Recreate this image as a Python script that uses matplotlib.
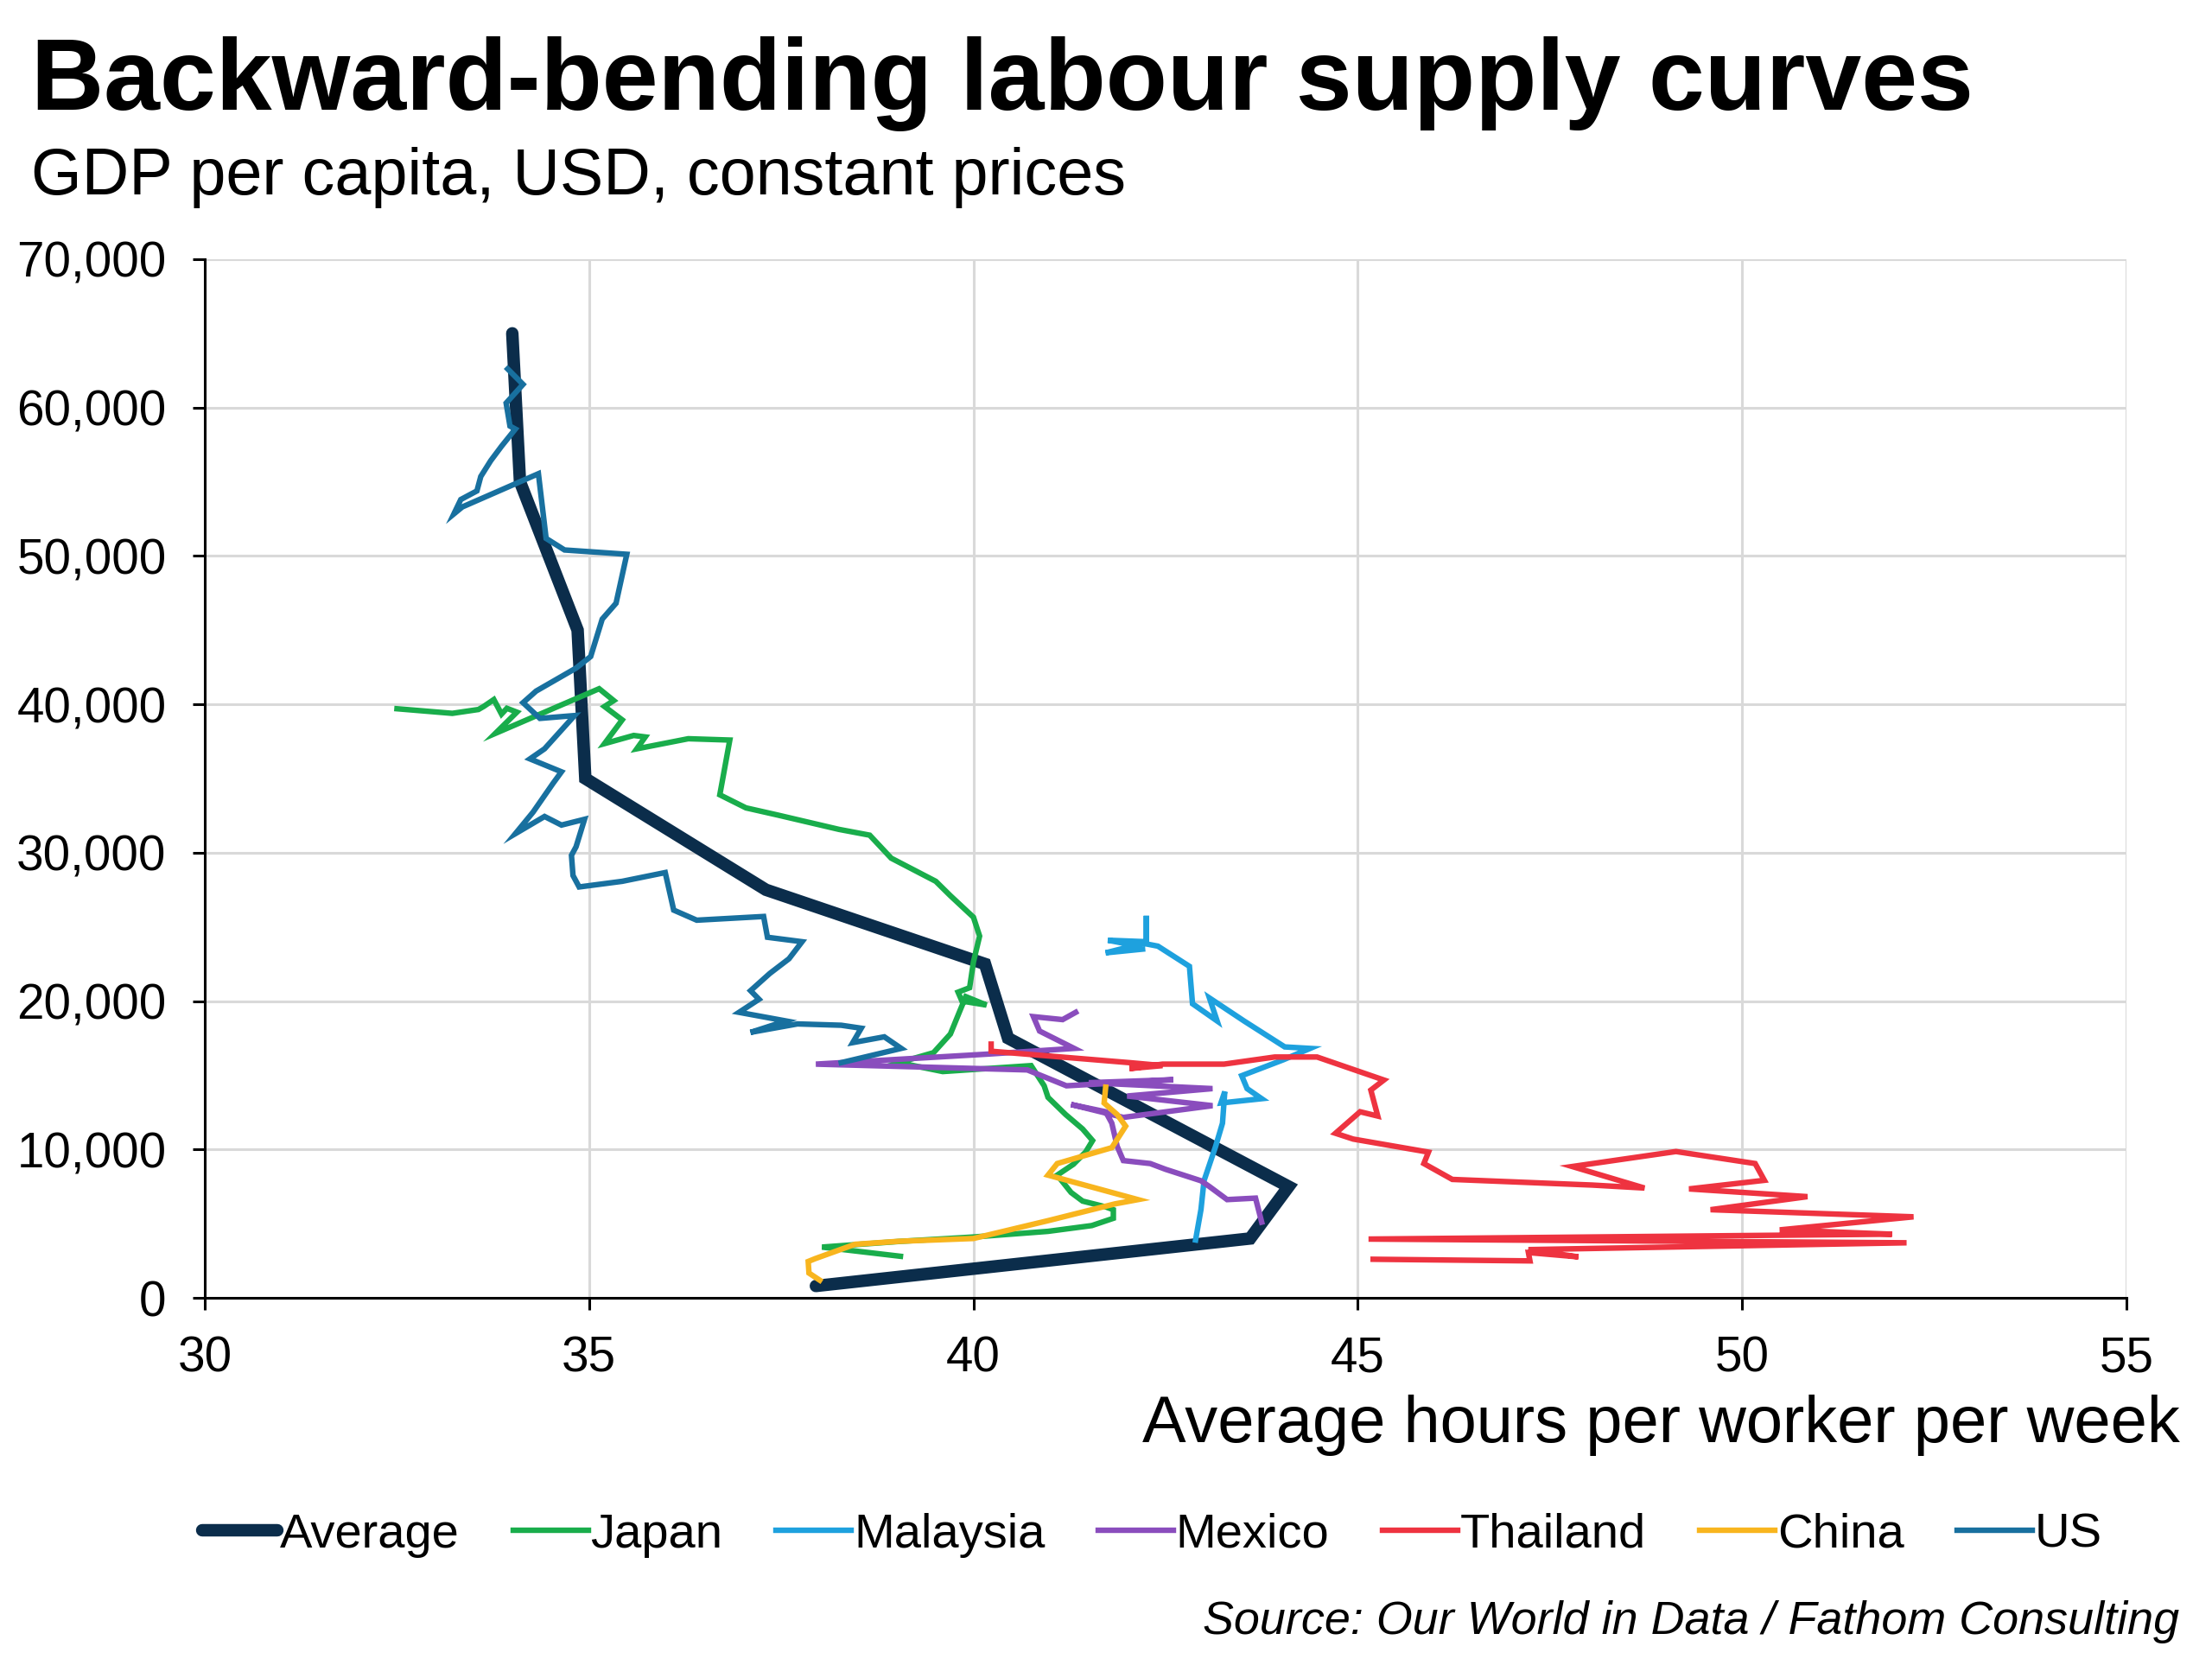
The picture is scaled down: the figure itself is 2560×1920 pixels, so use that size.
import matplotlib
matplotlib.use("Agg")
import matplotlib.pyplot as plt
from matplotlib.ticker import FuncFormatter

plt.rcParams['font.family'] = ['Liberation Sans', 'DejaVu Sans']

# average hours per worker per week (x) and GDP per capita (y)
avg_hours = [37.95, 43.6, 44.1, 40.45, 40.15, 37.3, 34.95, 34.85, 34.1, 34.0]
avg_gdp = [800, 4000, 7500, 17500, 22500, 27500, 35000, 45000, 55000, 65000]

japan_hours = [39.05, 38.03, 39.03, 40.0, 40.97, 41.54, 41.82, 41.82, 41.72, 41.42,
               41.27, 41.09, 41.3, 41.46, 41.55, 41.42, 41.2, 40.97, 40.92, 40.75,
               39.6, 39.03, 39.48, 39.7, 39.82, 39.9, 40.17, 39.85, 39.8, 39.95,
               40.0, 40.08, 40.0, 39.7, 39.51, 38.93, 38.65, 38.25, 37.45, 37.04,
               36.7, 36.83, 36.29, 35.62, 35.73, 35.58, 35.2, 35.43, 35.2, 35.32,
               35.13, 33.78, 34.06, 33.93, 33.86, 33.76, 33.63, 33.56, 33.22, 32.5]
japan_gdp = [2800, 3420, 3800, 4100, 4480, 4870, 5360, 5940, 6130, 6520,
             7100, 8270, 9000, 9830, 10600, 11380, 12350, 13510, 14290, 15650,
             15250, 15850, 16520, 17780, 19300, 20300, 19730, 20000, 20600, 20900,
             22640, 24380, 25650, 27100, 28070, 29630, 31180, 31570, 32540, 33020,
             33900, 37590, 37680, 37000, 37800, 37900, 37350, 38950, 39850, 40250,
             41050, 38040, 39470, 39730, 39340, 40320, 39860, 39650, 39390, 39700]

malaysia_hours = [42.89, 42.96, 43.0, 43.15, 43.24, 43.27, 43.22, 43.75, 43.56, 43.49,
                  44.03, 44.38, 44.05, 43.52, 43.07, 43.17, 42.85, 42.81, 42.4, 42.25,
                  42.25, 42.25, 41.75, 42.1, 41.72, 42.2]
malaysia_gdp = [3900, 5950, 7900, 10200, 11770, 13900, 13130, 13420, 14100, 14970,
                16040, 16810, 16910, 18660, 20210, 18660, 19820, 22340, 23700, 23850,
                25750, 24000, 24100, 23750, 23250, 23500]

mexico_hours = [43.75, 43.67, 43.3, 43.07, 42.96, 42.5, 42.3, 41.95, 41.87, 41.8,
                41.72, 41.27, 41.95, 43.11, 42.0, 43.11, 41.5, 42.6, 41.21, 40.7,
                37.95, 40.2, 41.31, 41.16, 40.86, 40.78, 41.16, 41.33]
mexico_gdp = [5100, 6720, 6620, 7500, 7890, 8660, 9050, 9250, 10210, 11770,
              12540, 13030, 12160, 12950, 13600, 14100, 14500, 14700, 14290, 15360,
              15750, 16430, 16810, 17200, 17980, 18950, 18750, 19240]

thailand_hours = [45.2, 47.24, 47.22, 47.87, 47.22, 52.14, 45.14, 51.95, 50.49, 52.23,
                  49.59, 50.85, 49.31, 50.29, 50.17, 49.14, 47.79, 48.73, 48.05, 46.23,
                  45.86, 45.92, 44.94, 44.71, 45.03, 45.26, 45.17, 45.34, 44.47, 43.92,
                  43.26, 42.46, 42.03, 42.46, 42.03, 40.23, 40.23]
thailand_gdp = [2600, 2490, 3050, 2760, 3250, 3710, 3960, 4290, 4580, 5460,
                5940, 6820, 7340, 7920, 9050, 9860, 8850, 7400, 7600, 7980,
                9050, 9820, 10700, 11090, 12540, 12250, 14000, 14680, 16230, 16230,
                15750, 15750, 15450, 15650, 15850, 16620, 17100]

china_hours = [38.0, 37.86, 37.85, 37.94, 38.46, 39.03, 40.0, 40.97, 41.84, 42.14,
               40.97, 41.09, 41.8, 41.98, 41.87, 41.7, 41.72]
china_gdp = [1190, 1670, 2450, 2640, 3610, 3810, 4000, 5200, 6330, 6620,
             8270, 9050, 10120, 11570, 12350, 13130, 14200]

us_hours = [38.28, 39.06, 38.84, 38.43, 38.54, 38.28, 37.71, 37.1, 37.56, 36.95,
            37.21, 37.1, 37.35, 37.6, 37.77, 37.32, 37.27, 36.4, 36.1, 35.99,
            35.43, 34.87, 34.79, 34.77, 34.83, 34.94, 34.64, 34.42, 34.04, 34.27,
            34.53, 34.64, 34.23, 34.42, 34.81, 34.36, 34.14, 34.31, 34.83, 35.02,
            35.17, 35.35, 35.49, 34.68, 34.44, 34.34, 33.35, 33.24, 33.33, 33.54,
            33.59, 33.72, 33.86, 34.04, 33.97, 33.92, 34.14, 33.94]
us_gdp = [15850, 16810, 17590, 17200, 18170, 18370, 18460, 17890, 18660, 19240,
          20120, 20700, 21860, 22850, 24000, 24300, 25700, 25450, 26130, 28660,
          28070, 27690, 28460, 29820, 30400, 32250, 31860, 32440, 31280, 32730,
          34670, 35450, 36320, 37000, 39240, 39050, 40110, 40890, 42440, 43220,
          45740, 46810, 50110, 50400, 51180, 55540, 53300, 52830, 53800, 54380,
          55350, 56420, 57390, 58550, 58750, 60300, 61560, 62600]

series = [
    ("Japan", japan_hours, japan_gdp, "#19ad4b"),
    ("Malaysia", malaysia_hours, malaysia_gdp, "#1ea1de"),
    ("Mexico", mexico_hours, mexico_gdp, "#8a4dbd"),
    ("Thailand", thailand_hours, thailand_gdp, "#ee3340"),
    ("China", china_hours, china_gdp, "#f8b51e"),
    ("US", us_hours, us_gdp, "#18709f"),
]

fig = plt.figure(figsize=(12.8, 9.6), dpi=200)
ax = fig.add_axes([0.0926, 0.2177, 0.8687, 0.6261])

ax.plot(avg_hours, avg_gdp, color="#0b2d4b", lw=5.2, label="Average",
        solid_joinstyle="miter", solid_capstyle="round", zorder=2)
for name, h, g, c in series:
    ax.plot(h, g, color=c, lw=2.3, label=name, solid_joinstyle="miter", zorder=3)

ax.set_xlim(30, 55)
ax.set_ylim(0, 70000)
ax.set_xticks(range(30, 56, 5))
ax.set_yticks(range(0, 70001, 10000))
ax.yaxis.set_major_formatter(FuncFormatter(lambda v, p: f"{int(v):,}"))
ax.grid(True, color="#d9d9d9", lw=1.1)
ax.set_axisbelow(True)
for s in ["top", "right"]:
    ax.spines[s].set_visible(False)
for s in ["left", "bottom"]:
    ax.spines[s].set_color("black")
    ax.spines[s].set_linewidth(1.1)
ax.tick_params(axis="both", labelsize=20.4, length=5, width=1.1, color="black")
ax.tick_params(axis="y", pad=11)
ax.tick_params(axis="x", pad=10.5)

fig.text(0.014, 0.934, "Backward-bending labour supply curves", fontsize=42,
         fontweight="bold", va="baseline", ha="left")
fig.text(0.014, 0.883, "GDP per capita, USD, constant prices", fontsize=27.2,
         va="baseline", ha="left")
fig.text(0.9853, 0.1307, "Average hours per worker per week", fontsize=27.3,
         va="baseline", ha="right")
fig.text(0.9853, 0.0151, "Source: Our World in Data / Fathom Consulting", fontsize=19.4,
         style="italic", va="baseline", ha="right")

fig.legend(loc="center", bbox_to_anchor=(0.521, 0.0745), ncol=7, frameon=False,
           fontsize=20.2, handlelength=1.55, handletextpad=0.05, columnspacing=1.1)

fig.savefig("out.png", dpi=200)
